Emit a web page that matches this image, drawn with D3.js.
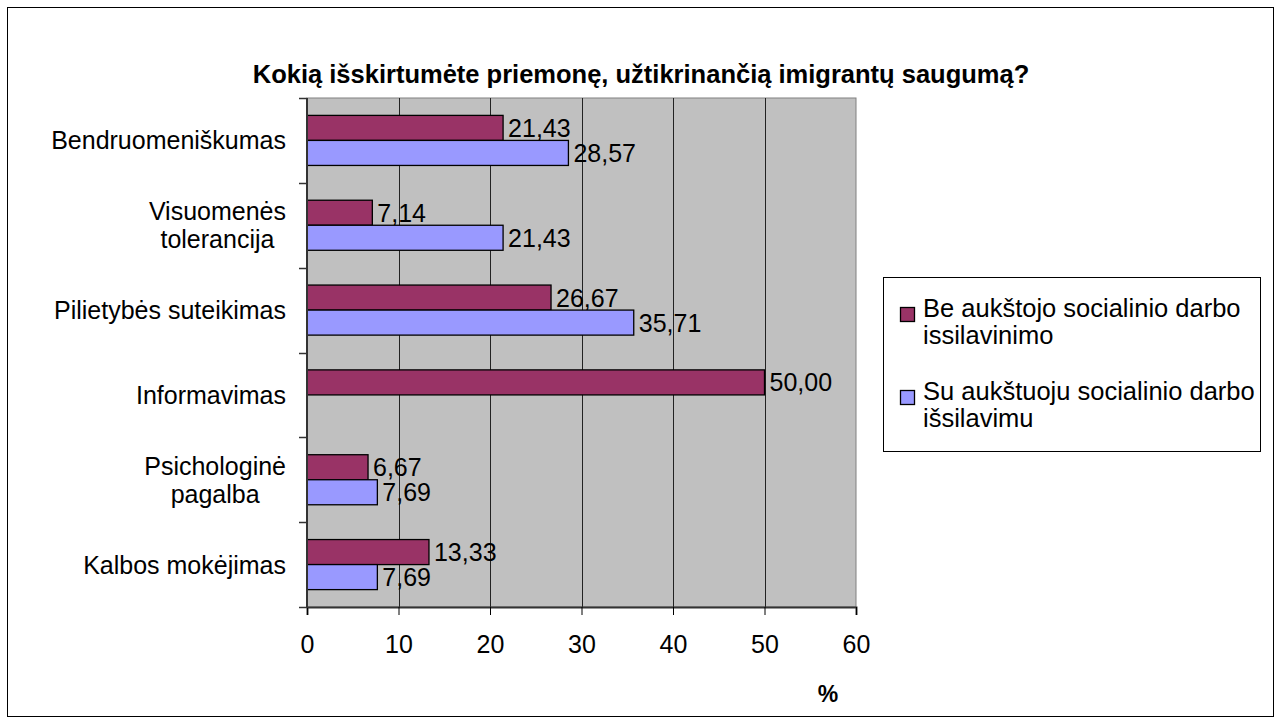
<!DOCTYPE html>
<html>
<head>
<meta charset="utf-8">
<script src="https://cdn.jsdelivr.net/npm/d3@7"></script>
<style>
  body { margin: 0; background: #fff; }
  svg text { font-family: "Liberation Sans", Arial, sans-serif; fill: #000; }
</style>
</head>
<body>
<svg id="chart" width="1282" height="724"></svg>
<script>
// data
var categories = ["Bendruomeniškumas", "Visuomenės tolerancija", "Pilietybės suteikimas", "Informavimas", "Psichologinė pagalba", "Kalbos mokėjimas"];
var categoryLines = [["Bendruomeniškumas"], ["Visuomenės", "tolerancija"], ["Pilietybės suteikimas"], ["Informavimas"], ["Psichologinė", "pagalba"], ["Kalbos mokėjimas"]];
var seriesNames = ["Be aukštojo socialinio darbo issilavinimo", "Su aukštuoju socialinio darbo išsilavimu"];
var legendLines = [["Be aukštojo socialinio darbo", "issilavinimo"], ["Su aukštuoju socialinio darbo", "išsilavimu"]];
var beValues = [21.43, 7.14, 26.67, 50.00, 6.67, 13.33];
var suValues = [28.57, 21.43, 35.71, null, 7.69, 7.69];
var xTicks = [0, 10, 20, 30, 40, 50, 60];
var colors = ["#993366", "#9999ff"];

var svg = d3.select("#chart");
var plot = { left: 307, right: 856, top: 98, bottom: 607 };

var fmt = function(v) { return d3.format(".2f")(v).replace(".", ","); };

var x = d3.scaleLinear().domain([0, 60]).range([plot.left, plot.right]);
var yCat = d3.scaleBand().domain(categories).range([plot.top, plot.bottom]);
var y = d3.scaleBand().domain(categories).range([plot.top, plot.bottom]).paddingInner(0.41).paddingOuter(0.205);
var ySub = d3.scaleBand().domain([0, 1]).range([0, y.bandwidth()]);

// outer frame
svg.append("rect").attr("x", 7.5).attr("y", 7.5).attr("width", 1266).attr("height", 709)
  .attr("fill", "#fff").attr("stroke", "#000").attr("stroke-width", 1);

// title
svg.append("text").attr("x", 641).attr("y", 83).attr("text-anchor", "middle")
  .style("font-size", "25.5px").style("font-weight", "bold")
  .text("Kokią išskirtumėte priemonę, užtikrinančią imigrantų saugumą?");

// plot area
svg.append("rect").attr("x", plot.left).attr("y", plot.top)
  .attr("width", plot.right - plot.left).attr("height", plot.bottom - plot.top)
  .attr("fill", "#c0c0c0").attr("stroke", "#808080").attr("stroke-width", 1);

svg.append("g").selectAll("line").data(xTicks.slice(1, -1)).join("line")
  .attr("x1", function(d) { return Math.round(x(d)) + 0.5; })
  .attr("x2", function(d) { return Math.round(x(d)) + 0.5; })
  .attr("y1", plot.top).attr("y2", plot.bottom)
  .attr("stroke", "#222").attr("stroke-width", 1);

// bars
var series = [beValues, suValues];
series.forEach(function(vals, s) {
  var rows = categories.map(function(c, i) { return { c: c, v: vals[i] }; })
    .filter(function(d) { return d.v != null; });
  svg.append("g").selectAll("rect").data(rows).join("rect")
    .attr("x", x(0))
    .attr("y", function(d) { return y(d.c) + ySub(s); })
    .attr("width", function(d) { return x(d.v) - x(0); })
    .attr("height", ySub.bandwidth())
    .attr("fill", colors[s]).attr("stroke", "#000").attr("stroke-width", 1.3);
  svg.append("g").selectAll("text").data(rows).join("text")
    .attr("x", function(d) { return x(d.v) + 5; })
    .attr("y", function(d) { return y(d.c) + ySub(s) + ySub.bandwidth() / 2 + 9; })
    .style("font-size", "25px")
    .text(function(d) { return fmt(d.v); });
});

// axes
var xAxis = svg.append("g").attr("transform", "translate(0," + plot.bottom + ")")
  .call(d3.axisBottom(x).tickValues(xTicks).tickSize(8).tickPadding(22));
xAxis.select(".domain").attr("stroke", "#333").attr("stroke-width", 2);
xAxis.selectAll(".tick line").attr("stroke", "#000");
xAxis.selectAll(".tick text").style("font-size", "25px").attr("dy", 0).attr("y", 46);
xAxis.selectAll("text").attr("font-family", null);

var bounds = categories.map(function(c) { return yCat(c); }).concat([plot.bottom]);
svg.append("g").selectAll("line").data(bounds).join("line")
  .attr("x1", plot.left - 8).attr("x2", plot.left)
  .attr("y1", function(d) { return Math.round(d) + 0.5; })
  .attr("y2", function(d) { return Math.round(d) + 0.5; })
  .attr("stroke", "#333").attr("stroke-width", 1.5);
svg.append("line").attr("x1", plot.left).attr("x2", plot.left)
  .attr("y1", plot.top).attr("y2", plot.bottom + 1)
  .attr("stroke", "#333").attr("stroke-width", 2);

// category labels, wrapped ones centred on each other
var labelRight = 286;
categories.forEach(function(c, i) {
  var lines = categoryLines[i];
  var cy = yCat(c) + yCat.bandwidth() / 2;
  var g = svg.append("g");
  var texts = lines.map(function(t, k) {
    return g.append("text")
      .attr("y", cy + (k - (lines.length - 1) / 2) * 28 + 9)
      .style("font-size", "25px").text(t);
  });
  var w = d3.max(texts, function(t) { return t.node().getComputedTextLength(); });
  texts.forEach(function(t) {
    t.attr("x", labelRight - w / 2).attr("text-anchor", "middle");
  });
});

// axis title
svg.append("text").attr("x", 828).attr("y", 702).attr("text-anchor", "middle")
  .style("font-size", "23px").style("font-weight", "bold").text("%");

// legend
svg.append("rect").attr("x", 883.5).attr("y", 277.5).attr("width", 377).attr("height", 174)
  .attr("fill", "#fff").attr("stroke", "#000").attr("stroke-width", 1);
var legendTop = [317, 400];
seriesNames.forEach(function(name, s) {
  var g = svg.append("g");
  g.append("rect").attr("x", 900.5).attr("y", legendTop[s] - 9.5).attr("width", 14).attr("height", 14)
    .attr("fill", colors[s]).attr("stroke", "#000").attr("stroke-width", 1.3);
  legendLines[s].forEach(function(t, k) {
    g.append("text").attr("x", 923).attr("y", legendTop[s] + k * 27)
      .style("font-size", "25.5px").text(t);
  });
});
</script>
</body>
</html>
